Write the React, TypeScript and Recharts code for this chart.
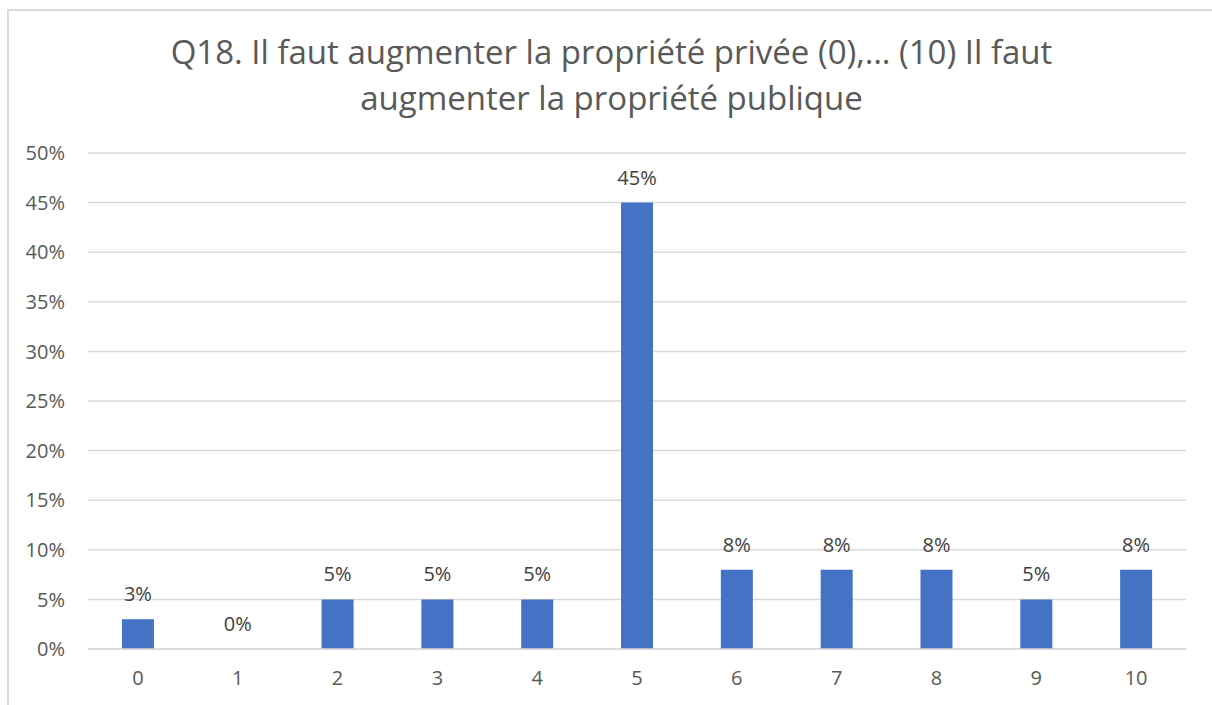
import { ComposedChart, Bar, Line, XAxis, YAxis, CartesianGrid, LabelList } from "recharts";

const categories = ["0", "1", "2", "3", "4", "5", "6", "7", "8", "9", "10"];
const percents = [3, 0, 5, 5, 5, 45, 8, 8, 8, 5, 8];
const yTicks = [0, 5, 10, 15, 20, 25, 30, 35, 40, 45, 50];

const data = categories.map((name, i) => ({ name, value: percents[i] }));

const FONT = "'Open Sans', 'Noto Sans', sans-serif";

export default function App() {
  return (
    <div
      style={{
        position: "absolute",
        left: 7,
        top: 9,
        width: 1205,
        height: 696,
        borderLeft: "2px solid #d9d9d9",
        borderTop: "2px solid #d9d9d9",
        boxSizing: "border-box",
        background: "#fff",
        fontFamily: FONT,
      }}
    >
      <div
        style={{
          position: "absolute",
          left: 0,
          top: 18,
          width: 1205,
          textAlign: "center",
          color: "#595959",
          fontSize: 33,
          lineHeight: "46px",
        }}
      >
        Q18. Il faut augmenter la propriété privée (0),… (10) Il faut
        <br />
        augmenter la propriété publique
      </div>
      <div style={{ position: "absolute", left: -2, top: -2 }}>
        <ComposedChart
          width={1205}
          height={700}
          data={data}
          margin={{ top: 144, right: 26, bottom: 20, left: 21 }}
          barCategoryGap="34%"
        >
          <CartesianGrid vertical={false} stroke="#d9d9d9" strokeWidth={1.5} />
          <XAxis
            dataKey="name"
            height={40}
            tickLine={false}
            axisLine={{ stroke: "#d9d9d9", strokeWidth: 1.5 }}
            tickSize={0}
            tickMargin={22}
            tick={{ fill: "#595959", fontSize: 20, fontFamily: FONT }}
          />
          <YAxis
            width={60}
            domain={[0, 50]}
            ticks={yTicks}
            interval={0}
            tickFormatter={(v: number) => `${v}%`}
            axisLine={false}
            tickLine={false}
            tickSize={0}
            tickMargin={23}
            tick={{ fill: "#595959", fontSize: 20, fontFamily: FONT }}
          />
          <Bar dataKey="value" fill="#4472c4" isAnimationActive={false} />
          <Line
            dataKey="value"
            stroke="none"
            dot={false}
            activeDot={false}
            legendType="none"
            isAnimationActive={false}
          >
            <LabelList
              dataKey="value"
              position="top"
              offset={18}
              formatter={(v: number) => `${v}%`}
              style={{ fill: "#404040", fontSize: 20, fontFamily: FONT }}
            />
          </Line>
        </ComposedChart>
      </div>
    </div>
  );
}
